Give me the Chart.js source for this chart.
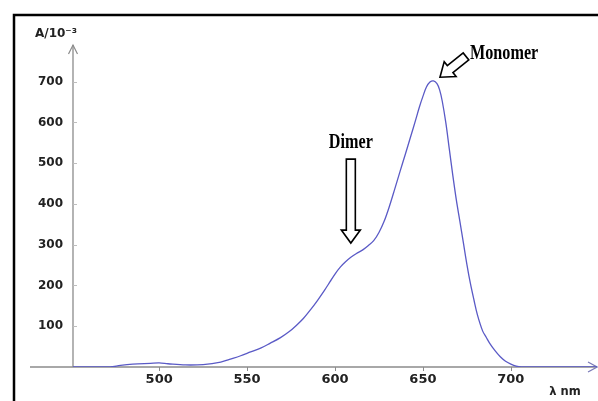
<!DOCTYPE html>
<html>
<head>
<meta charset="utf-8">
<script src="https://cdn.jsdelivr.net/npm/chart.js@4.4.1/dist/chart.umd.min.js"></script>
<style>
html,body{margin:0;padding:0;background:#fff;}
#wrap{width:598px;height:401px;position:relative;}
</style>
</head>
<body>
<div id="wrap"><canvas id="c" width="598" height="401"></canvas></div>
<script>
const wavelengths = [451,472,478,485,495,500,505,515,525,535,540,546,552,558,563,569,574,578,582,586,590,594,597,600,603,606,609,612,616,619,622,625,628,631,634,637,640,643,646,648,650,652,654,656,658,659.5,661,663,665,667,669,671,673,675,677,679,681,684,686,688,691,694,697,700,703,706,749];
const absorbance  = [0,0,4,7,9,10,8,5,6,12,19,27,37,47,58,72,87,102,119,140,163,188,208,228,245,258,269,278,288,298,310,330,358,395,437,480,522,565,608,638,664,687,699,702,695,680,652,600,535,470,410,358,305,252,205,165,128,88,73,58,40,25,14,7,2,0,0];
const xTicks = [500,550,600,650,700];
const yTicks = [100,200,300,400,500,600,700];
const xRange = [451,749];
const yRange = [0,790];
const yAxisLabel = 'A/10\u207B\u00B3';
const xAxisLabel = '\u03BB nm';
const annotations = [
  {text:'Dimer', x:609, y:304, tailX:609, tailY:510},
  {text:'Monomer', x:659.7, y:711, tailX:674.5, tailY:762}
];

const points = wavelengths.map((w,i)=>({x:w, y:absorbance[i]}));

function hollowArrow(ctx, tx, ty, sx, sy, shaftW, headW, headL){
  const dx = tx - sx, dy = ty - sy;
  const L = Math.hypot(dx, dy);
  const ux = dx / L, uy = dy / L;
  const px = -uy, py = ux;
  const bx = tx - ux*headL, by = ty - uy*headL;
  const pts = [
    [sx + px*shaftW/2, sy + py*shaftW/2],
    [bx + px*shaftW/2, by + py*shaftW/2],
    [bx + px*headW/2, by + py*headW/2],
    [tx, ty],
    [bx - px*headW/2, by - py*headW/2],
    [bx - px*shaftW/2, by - py*shaftW/2],
    [sx - px*shaftW/2, sy - py*shaftW/2]
  ];
  ctx.beginPath();
  ctx.moveTo(pts[0][0], pts[0][1]);
  for (let i=1;i<pts.length;i++) ctx.lineTo(pts[i][0], pts[i][1]);
  ctx.closePath();
  ctx.fillStyle = '#fff';
  ctx.fill();
  ctx.lineWidth = 1.6;
  ctx.strokeStyle = '#000';
  ctx.lineJoin = 'miter';
  ctx.stroke();
}

const decor = {
  id: 'decor',
  beforeDatasetsDraw(chart){
    const ctx = chart.ctx;
    const xs = chart.scales.x, ys = chart.scales.y;
    const x0 = xs.left, y0 = ys.bottom, top = ys.top;
    ctx.save();
    ctx.strokeStyle = '#000';
    ctx.lineWidth = 2.5;
    ctx.beginPath();
    ctx.moveTo(14, 401);
    ctx.lineTo(14, 15);
    ctx.lineTo(598, 15);
    ctx.stroke();
    ctx.strokeStyle = '#8c8c8c';
    ctx.lineWidth = 1.3;
    ctx.beginPath();
    ctx.moveTo(x0, y0 + 0.5);
    ctx.lineTo(x0, top);
    ctx.moveTo(30, y0);
    ctx.lineTo(xs.right, y0);
    ctx.stroke();
    ctx.lineWidth = 1.2;
    ctx.beginPath();
    ctx.moveTo(x0 - 4.5, top + 9);
    ctx.lineTo(x0, top);
    ctx.lineTo(x0 + 4.5, top + 9);
    ctx.stroke();
    ctx.strokeStyle = '#7b7bb8';
    ctx.beginPath();
    ctx.moveTo(xs.right - 9, y0 - 5);
    ctx.lineTo(xs.right, y0);
    ctx.lineTo(xs.right - 9, y0 + 5);
    ctx.stroke();
    ctx.strokeStyle = '#bdbdbd';
    ctx.lineWidth = 1;
    ctx.beginPath();
    yTicks.forEach(v=>{
      const py = Math.round(ys.getPixelForValue(v)) + 0.5;
      ctx.moveTo(x0, py); ctx.lineTo(x0 + 4, py);
    });
    ctx.stroke();
    ctx.strokeStyle = '#8c8c8c';
    ctx.beginPath();
    xTicks.forEach(v=>{
      const px = Math.round(xs.getPixelForValue(v)) + 0.5;
      ctx.moveTo(px, y0); ctx.lineTo(px, y0 + 4);
    });
    ctx.stroke();
    ctx.restore();
  },
  afterDraw(chart){
    const ctx = chart.ctx;
    const xs = chart.scales.x, ys = chart.scales.y;
    ctx.save();
    ctx.fillStyle = '#222';
    ctx.font = 'bold 12px "DejaVu Sans"';
    ctx.textAlign = 'left';
    ctx.textBaseline = 'alphabetic';
    ctx.fillText(yAxisLabel, 35, 37);
    ctx.font = 'bold 11.5px "DejaVu Sans"';
    ctx.textAlign = 'center';
    ctx.fillText(xAxisLabel, 565, 395);
    annotations.forEach(a=>{
      const tx = xs.getPixelForValue(a.x), ty = ys.getPixelForValue(a.y);
      const sx = xs.getPixelForValue(a.tailX), sy = ys.getPixelForValue(a.tailY);
      hollowArrow(ctx, tx, ty, sx, sy, 9, 19, 13);
    });
    ctx.fillStyle = '#000';
    ctx.font = 'bold 21px "Liberation Serif"';
    ctx.textBaseline = 'alphabetic';
    {
      const a = annotations[0];
      const cx = xs.getPixelForValue(a.tailX), cy = ys.getPixelForValue(a.tailY) - 11;
      ctx.save(); ctx.translate(cx, cy); ctx.scale(0.77, 1);
      ctx.textAlign = 'center'; ctx.fillText(a.text, 0, 0); ctx.restore();
    }
    {
      const a = annotations[1];
      const lx = xs.getPixelForValue(a.tailX) + 4, ly = ys.getPixelForValue(a.tailY) + 3;
      ctx.save(); ctx.translate(lx, ly); ctx.scale(0.77, 1);
      ctx.textAlign = 'left'; ctx.fillText(a.text, 0, 0); ctx.restore();
    }
    ctx.restore();
  }
};

new Chart(document.getElementById('c'), {
  type: 'line',
  data: {
    datasets: [{
      data: points,
      borderColor: '#5a5ac6',
      borderWidth: 1.3,
      pointRadius: 0,
      fill: false,
      tension: 0.35
    }]
  },
  plugins: [decor],
  options: {
    responsive: false,
    animation: false,
    devicePixelRatio: 1,
    layout: {padding: {left: 0, top: 45, right: 1, bottom: 0}},
    plugins: {legend: {display: false}, tooltip: {enabled: false}},
    scales: {
      x: {
        type: 'linear',
        min: xRange[0], max: xRange[1],
        afterBuildTicks: s => { s.ticks = xTicks.map(v => ({value: v})); },
        afterFit: s => { s.height = 34; },
        grid: {display: false, drawTicks: false},
        border: {display: false},
        ticks: {color: '#222', font: {family: 'DejaVu Sans', size: 13, weight: 'bold'}, padding: 5, maxRotation: 0, autoSkip: false}
      },
      y: {
        type: 'linear',
        min: yRange[0], max: yRange[1],
        afterBuildTicks: s => { s.ticks = yTicks.map(v => ({value: v})); },
        afterFit: s => { s.width = 73; },
        grid: {display: false, drawTicks: false},
        border: {display: false},
        ticks: {color: '#222', font: {family: 'DejaVu Sans', size: 12, weight: 'bold'}, padding: 10}
      }
    }
  }
});
</script>
</body>
</html>
